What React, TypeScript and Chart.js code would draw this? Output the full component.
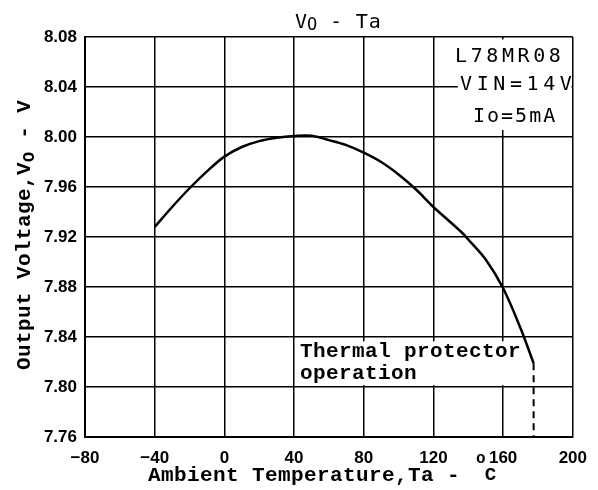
import React, { useEffect, useRef } from 'react';
import { Chart, registerables } from 'chart.js';

Chart.register(...registerables);

const temps = [-40, -30, -20, -10, 0, 10, 20, 30, 40, 50, 60, 70, 80, 90, 100, 110, 120, 128, 136, 140, 150, 160, 170, 177.5];
const volts = [7.928, 7.944, 7.959, 7.9725, 7.9843, 7.992, 7.9967, 7.9994, 8.0008, 8.001, 7.9975, 7.9935, 7.9875, 7.98, 7.97, 7.958, 7.944, 7.934, 7.924, 7.918, 7.902, 7.879, 7.847, 7.819];
const cutoffTemps = [177.5, 177.5];
const cutoffVolts = [7.819, 7.76];
const xTicks = [-80, -40, 0, 40, 80, 120, 160, 200];
const yTicks = [7.76, 7.8, 7.84, 7.88, 7.92, 7.96, 8.0, 8.04, 8.08];
const legendLines = ['L78MR08', 'VIN=14V', 'Io=5mA'];
const noteLines = ['Thermal protector', 'operation'];

const MONO_B = (s: number) => `bold ${s}px "Liberation Mono", "DejaVu Sans Mono", monospace`;
const THIN = (s: number) => `${s}px "DejaVu Sans Mono", monospace`;

function put(ctx: CanvasRenderingContext2D, s: string, x: number, y: number, font: string, spacing = 0) {
  ctx.font = font;
  (ctx as any).letterSpacing = spacing + 'px';
  ctx.fillText(s, x, y);
  const w = ctx.measureText(s).width;
  (ctx as any).letterSpacing = '0px';
  return w;
}

const textPlugin = {
  id: 'texts',
  beforeDatasetsDraw(chart: any) {
    const { ctx, scales } = chart;
    const x = scales.x, y = scales.y;
    ctx.save();
    ctx.fillStyle = '#fff';
    ctx.fillRect(x.getPixelForValue(134), y.getPixelForValue(8.078), x.getPixelForValue(199.2) - x.getPixelForValue(134), y.getPixelForValue(8.0056) - y.getPixelForValue(8.078));
    ctx.fillRect(x.getPixelForValue(42), y.getPixelForValue(7.8365), x.getPixelForValue(169) - x.getPixelForValue(42), y.getPixelForValue(7.8015) - y.getPixelForValue(7.8365));
    ctx.restore();
  },
  afterDraw(chart: any) {
    const { ctx } = chart;
    ctx.save();
    ctx.fillStyle = '#000';
    ctx.textBaseline = 'alphabetic';
    ctx.textAlign = 'left';
    let cx = 295;
    cx += put(ctx, 'V', cx, 28, THIN(20));
    cx += put(ctx, 'O', cx, 30, THIN(17));
    put(ctx, ' - Ta', cx, 28, THIN(20), 0.8);
    put(ctx, legendLines[0], 455, 62, THIN(20), 3.6);
    put(ctx, legendLines[1], 460, 90, THIN(20), 4.6);
    put(ctx, legendLines[2], 473, 122, THIN(20), 2);
    put(ctx, noteLines[0], 300, 357, MONO_B(21), 0.4);
    put(ctx, noteLines[1], 300, 379, MONO_B(21), 0.4);
    let tx = 148;
    tx += put(ctx, 'Ambient Temperature,Ta - ', tx, 481, MONO_B(21), 0.4);
    tx += 3;
    tx += put(ctx, 'o', tx, 463, MONO_B(16));
    put(ctx, 'C', tx - 1, 480, MONO_B(19));
    ctx.translate(30, 370);
    ctx.rotate(-Math.PI / 2);
    let ty = 0;
    ty += put(ctx, 'Output Voltage,V', ty, 0, MONO_B(21), 0.4);
    ty += put(ctx, 'O', ty, 4, MONO_B(17));
    put(ctx, ' - V', ty, 0, MONO_B(21), 0.4);
    ctx.restore();
  },
};

export default function App() {
  const ref = useRef<HTMLCanvasElement>(null);
  useEffect(() => {
    if (!ref.current) return;
    const chart = new Chart(ref.current, {
      type: 'line',
      data: {
        datasets: [
          {
            data: temps.map((t, i) => ({ x: t, y: volts[i] })),
            borderColor: '#000',
            borderWidth: 2.5,
            pointRadius: 0,
            tension: 0.35,
            fill: false,
          },
          {
            data: cutoffTemps.map((t, i) => ({ x: t, y: cutoffVolts[i] })),
            borderColor: '#000',
            borderWidth: 2,
            borderDash: [7, 5],
            pointRadius: 0,
            fill: false,
          },
        ],
      },
      options: {
        responsive: false,
        animation: false,
        layout: { padding: { left: 0, top: 37, right: 22, bottom: 0 } },
        plugins: { legend: { display: false }, tooltip: { enabled: false }, title: { display: false } },
        scales: {
          x: {
            type: 'linear',
            min: -80,
            max: 200,
            afterBuildTicks: (s: any) => { s.ticks = xTicks.map((v) => ({ value: v })); },
            afterFit: (s: any) => { s.height = 53; },
            grid: { color: '#000', lineWidth: 1.5, drawTicks: false },
            border: { color: '#000', width: 2 },
            ticks: {
              color: '#000',
              padding: 11,
              maxRotation: 0,
              autoSkip: false,
              font: { family: '"Liberation Sans", Arial, sans-serif', size: 17, weight: 'bold' },
              callback: (v: any) => (Number(v) < 0 ? '\u2212' + Math.abs(Number(v)) : String(v)),
            },
          },
          y: {
            type: 'linear',
            min: 7.76,
            max: 8.08,
            afterBuildTicks: (s: any) => { s.ticks = yTicks.map((v) => ({ value: v })); },
            afterFit: (s: any) => { s.width = 85; },
            grid: { color: '#000', lineWidth: 1.5, drawTicks: false },
            border: { color: '#000', width: 2 },
            ticks: {
              color: '#000',
              padding: 8,
              autoSkip: false,
              font: { family: '"Liberation Sans", Arial, sans-serif', size: 17, weight: 'bold' },
              callback: (v: any) => Number(v).toFixed(2),
            },
          },
        },
      },
      plugins: [textPlugin],
    } as any);
    return () => chart.destroy();
  }, []);
  return (
    <div style={{ position: 'absolute', left: 0, top: 0, width: 598, height: 490, background: '#fff' }}>
      <canvas ref={ref} width={598} height={490} style={{ display: 'block' }} />
    </div>
  );
}
